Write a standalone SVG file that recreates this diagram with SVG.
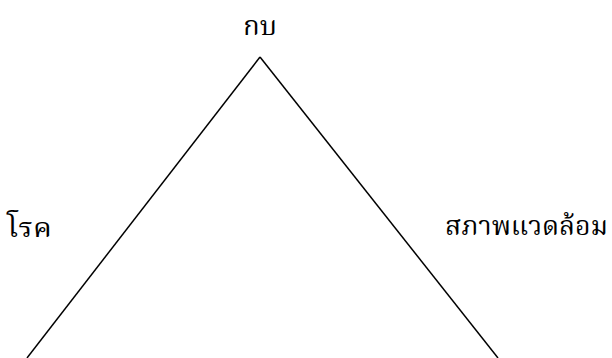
<svg xmlns="http://www.w3.org/2000/svg" width="612" height="358" viewBox="0 0 612 358">
<style>
.lbl{font-family:"Noto Serif Thai","Noto Sans Thai Looped","Norasi","Garuda","Noto Sans Thai","Noto Sans","DejaVu Sans",sans-serif;font-size:26px;fill:#000}
.edge{stroke:#000;stroke-width:1.5;fill:none}
</style>
<rect width="612" height="358" fill="#fff"/>
<g id="connectors">
<line class="edge" x1="260" y1="57" x2="27" y2="358"/>
<line class="edge" x1="260" y1="57" x2="498" y2="358"/>
</g>
<g id="node-frog"><text class="lbl" x="243" y="35" textLength="34" lengthAdjust="spacingAndGlyphs">กบ</text></g>
<g id="node-disease"><text class="lbl" x="7" y="237" textLength="45" lengthAdjust="spacingAndGlyphs">โรค</text></g>
<g id="node-environment"><text class="lbl" x="445" y="235" textLength="163" lengthAdjust="spacingAndGlyphs">สภาพแวดล้อม</text></g>
</svg>
